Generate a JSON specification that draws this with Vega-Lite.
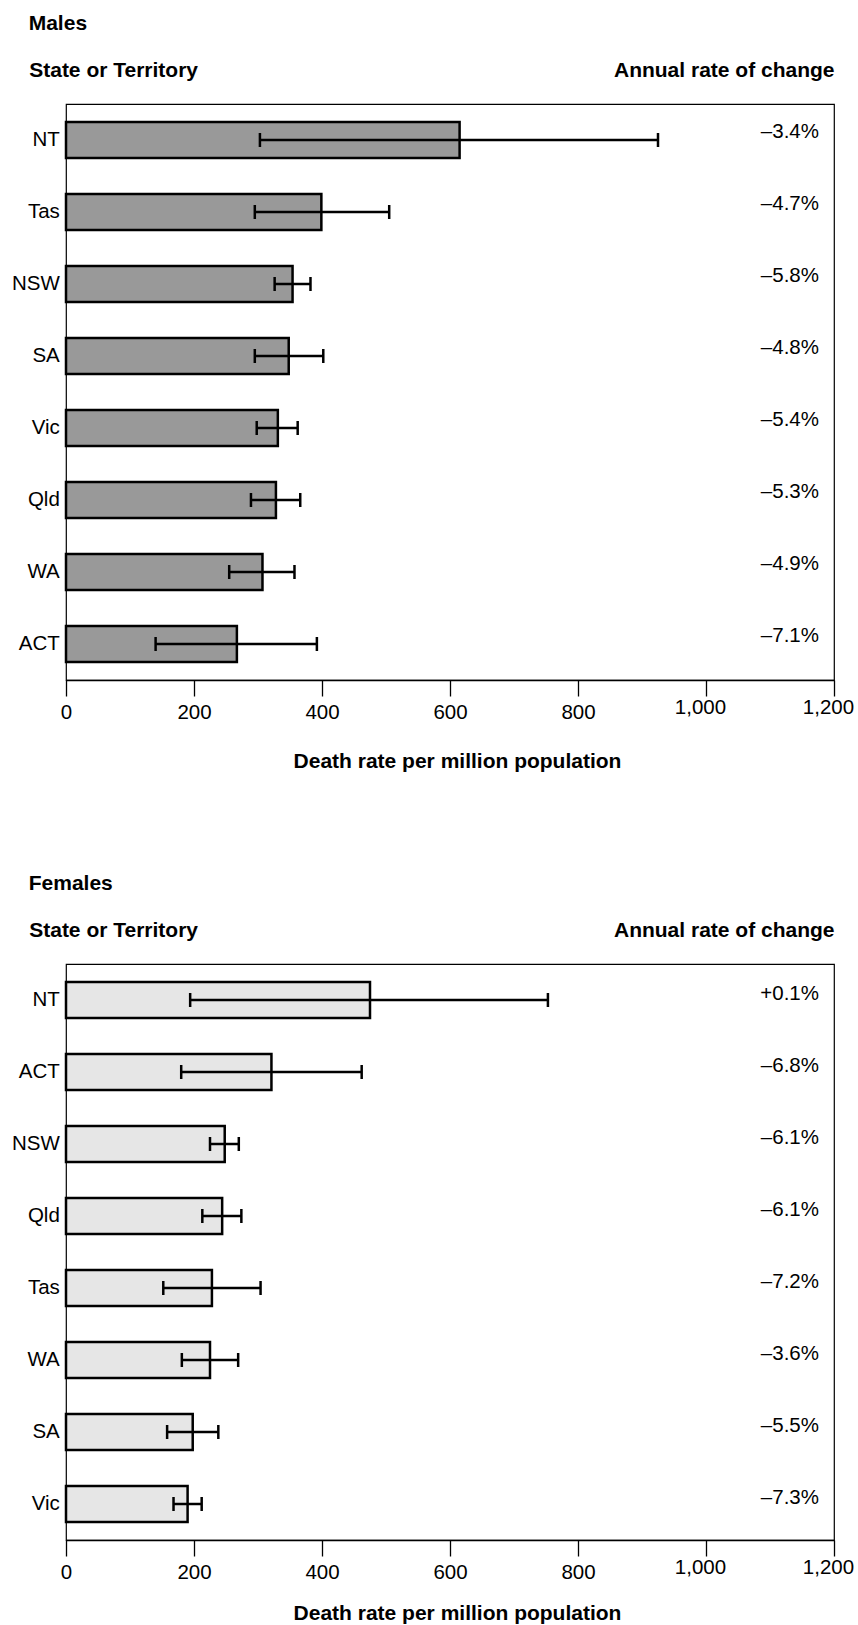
{
  "$schema": "https://vega.github.io/schema/vega-lite/v6.json",
  "padding": {"left": 10, "top": 12, "right": 5, "bottom": 0},
  "spacing": 100,
  "config": {
    "font": "Liberation Sans",
    "view": {"stroke": "black", "strokeWidth": 1.2},
    "title": {"fontSize": 21, "fontWeight": "bold", "color": "black", "anchor": "start", "frame": "group", "dx": -37.3, "offset": 25.5}
  },
  "datasets": {
    "males": [
      {"state": "NT", "rate": 615, "lo": 303, "hi": 925, "change": "–3.4%"},
      {"state": "Tas", "rate": 399, "lo": 295, "hi": 505, "change": "–4.7%"},
      {"state": "NSW", "rate": 354, "lo": 326, "hi": 382, "change": "–5.8%"},
      {"state": "SA", "rate": 348, "lo": 295, "hi": 402, "change": "–4.8%"},
      {"state": "Vic", "rate": 331, "lo": 298, "hi": 362, "change": "–5.4%"},
      {"state": "Qld", "rate": 328, "lo": 289, "hi": 366, "change": "–5.3%"},
      {"state": "WA", "rate": 307, "lo": 255, "hi": 357, "change": "–4.9%"},
      {"state": "ACT", "rate": 267, "lo": 140, "hi": 392, "change": "–7.1%"}
    ],
    "females": [
      {"state": "NT", "rate": 475, "lo": 194, "hi": 753, "change": "+0.1%"},
      {"state": "ACT", "rate": 321, "lo": 180, "hi": 462, "change": "–6.8%"},
      {"state": "NSW", "rate": 248, "lo": 225, "hi": 270, "change": "–6.1%"},
      {"state": "Qld", "rate": 244, "lo": 213, "hi": 274, "change": "–6.1%"},
      {"state": "Tas", "rate": 228, "lo": 152, "hi": 304, "change": "–7.2%"},
      {"state": "WA", "rate": 225, "lo": 181, "hi": 269, "change": "–3.6%"},
      {"state": "SA", "rate": 198, "lo": 158, "hi": 238, "change": "–5.5%"},
      {"state": "Vic", "rate": 190, "lo": 168, "hi": 212, "change": "–7.3%"}
    ]
  },
  "vconcat": [
    {
      "title": {"text": "Males"},
      "width": 768, "height": 576,
      "data": {"name": "males"},
      "resolve": {"axis": {"y": "independent"}},
      "layer": [
        {
          "mark": {"type": "bar", "fill": "#999999", "stroke": "black", "strokeWidth": 2.5},
          "encoding": {
            "y": {"field": "state", "type": "nominal", "sort": null,
              "scale": {"paddingInner": 0.5, "paddingOuter": 0.25},
              "axis": {"title": "State or Territory", "titleAngle": 0, "titleAlign": "left", "titleBaseline": "alphabetic", "titleX": -37.3, "titleY": -27.7, "titleFontSize": 21, "titleFontWeight": "bold", "titleColor": "black", "labelFontSize": 20.5, "labelColor": "black", "labelPadding": 6.7, "ticks": false, "domain": false}},
            "x": {"field": "rate", "type": "quantitative", "title": "Death rate per million population",
              "scale": {"domain": [0, 1200]},
              "axis": {"values": [0, 200, 400, 600, 800, 1000, 1200], "labelExpr": "format(datum.value, ',')", "grid": false, "tickSize": 16, "tickColor": "black", "tickWidth": 1.3, "domainColor": "black", "domainWidth": 1.3, "labelFontSize": 20.5, "labelColor": "black", "labelFlush": false,
                "labelPadding": {"condition": {"test": "datum.value >= 1000", "value": 1}, "value": 6.5},
                "labelOffset": {"condition": {"test": "datum.value >= 1000", "value": -6}, "value": 0},
                "titleFontSize": 21, "titleFontWeight": "bold", "titleColor": "black", "titleX": 391, "titleY": 87, "titleBaseline": "alphabetic", "titleAlign": "center"}}
          }
        },
        {
          "mark": {"type": "rule", "strokeWidth": 2.5, "color": "black"},
          "encoding": {
            "y": {"field": "state", "type": "nominal", "sort": null, "axis": null},
            "x": {"field": "lo", "type": "quantitative", "title": "Death rate per million population"},
            "x2": {"field": "hi"}
          }
        },
        {
          "mark": {"type": "tick", "thickness": 2.5, "size": 14, "color": "black", "opacity": 1},
          "encoding": {
            "y": {"field": "state", "type": "nominal", "sort": null, "axis": null},
            "x": {"field": "lo", "type": "quantitative", "title": "Death rate per million population"}
          }
        },
        {
          "mark": {"type": "tick", "thickness": 2.5, "size": 14, "color": "black", "opacity": 1},
          "encoding": {
            "y": {"field": "state", "type": "nominal", "sort": null, "axis": null},
            "x": {"field": "hi", "type": "quantitative", "title": "Death rate per million population"}
          }
        },
        {
          "mark": {"type": "text", "align": "right", "baseline": "middle", "dx": -15, "dy": -8, "fontSize": 20.5, "color": "black"},
          "encoding": {
            "y": {"field": "state", "type": "nominal", "sort": null,
              "axis": {"orient": "right", "title": "Annual rate of change", "labels": false, "ticks": false, "domain": false, "titleAngle": 0, "titleAlign": "right", "titleBaseline": "alphabetic", "titleX": 0, "titleY": -27.7, "titleFontSize": 21, "titleFontWeight": "bold", "titleColor": "black"}},
            "x": {"datum": 1200, "type": "quantitative", "title": "Death rate per million population"},
            "text": {"field": "change"}
          }
        }
      ]
    },
    {
      "title": {"text": "Females"},
      "width": 768, "height": 576,
      "data": {"name": "females"},
      "resolve": {"axis": {"y": "independent"}},
      "layer": [
        {
          "mark": {"type": "bar", "fill": "#e6e6e6", "stroke": "black", "strokeWidth": 2.5},
          "encoding": {
            "y": {"field": "state", "type": "nominal", "sort": null,
              "scale": {"paddingInner": 0.5, "paddingOuter": 0.25},
              "axis": {"title": "State or Territory", "titleAngle": 0, "titleAlign": "left", "titleBaseline": "alphabetic", "titleX": -37.3, "titleY": -27.7, "titleFontSize": 21, "titleFontWeight": "bold", "titleColor": "black", "labelFontSize": 20.5, "labelColor": "black", "labelPadding": 6.7, "ticks": false, "domain": false}},
            "x": {"field": "rate", "type": "quantitative", "title": "Death rate per million population",
              "scale": {"domain": [0, 1200]},
              "axis": {"values": [0, 200, 400, 600, 800, 1000, 1200], "labelExpr": "format(datum.value, ',')", "grid": false, "tickSize": 16, "tickColor": "black", "tickWidth": 1.3, "domainColor": "black", "domainWidth": 1.3, "labelFontSize": 20.5, "labelColor": "black", "labelFlush": false,
                "labelPadding": {"condition": {"test": "datum.value >= 1000", "value": 1}, "value": 6.5},
                "labelOffset": {"condition": {"test": "datum.value >= 1000", "value": -6}, "value": 0},
                "titleFontSize": 21, "titleFontWeight": "bold", "titleColor": "black", "titleX": 391, "titleY": 79, "titleBaseline": "alphabetic", "titleAlign": "center"}}
          }
        },
        {
          "mark": {"type": "rule", "strokeWidth": 2.5, "color": "black"},
          "encoding": {
            "y": {"field": "state", "type": "nominal", "sort": null, "axis": null},
            "x": {"field": "lo", "type": "quantitative", "title": "Death rate per million population"},
            "x2": {"field": "hi"}
          }
        },
        {
          "mark": {"type": "tick", "thickness": 2.5, "size": 14, "color": "black", "opacity": 1},
          "encoding": {
            "y": {"field": "state", "type": "nominal", "sort": null, "axis": null},
            "x": {"field": "lo", "type": "quantitative", "title": "Death rate per million population"}
          }
        },
        {
          "mark": {"type": "tick", "thickness": 2.5, "size": 14, "color": "black", "opacity": 1},
          "encoding": {
            "y": {"field": "state", "type": "nominal", "sort": null, "axis": null},
            "x": {"field": "hi", "type": "quantitative", "title": "Death rate per million population"}
          }
        },
        {
          "mark": {"type": "text", "align": "right", "baseline": "middle", "dx": -15, "dy": -6, "fontSize": 20.5, "color": "black"},
          "encoding": {
            "y": {"field": "state", "type": "nominal", "sort": null,
              "axis": {"orient": "right", "title": "Annual rate of change", "labels": false, "ticks": false, "domain": false, "titleAngle": 0, "titleAlign": "right", "titleBaseline": "alphabetic", "titleX": 0, "titleY": -27.7, "titleFontSize": 21, "titleFontWeight": "bold", "titleColor": "black"}},
            "x": {"datum": 1200, "type": "quantitative", "title": "Death rate per million population"},
            "text": {"field": "change"}
          }
        }
      ]
    }
  ]
}
